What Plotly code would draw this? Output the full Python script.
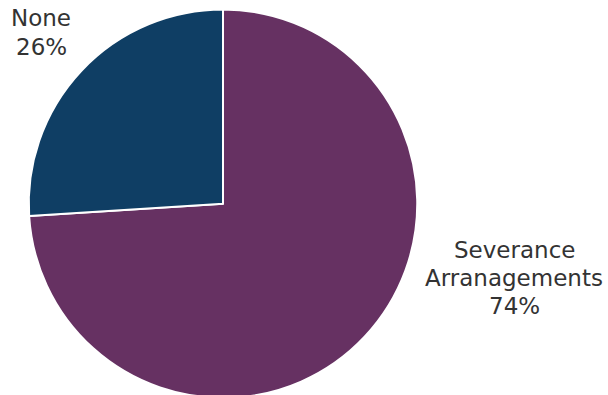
import plotly.graph_objects as go

labels = ["Severance<br>Arranagements", "None"]
values = [74, 26]
colors = ["#663162", "#0f3e64"]

W, H = 608, 398

fig = go.Figure()
fig.add_trace(go.Pie(
    labels=labels, values=values, sort=False, direction="clockwise", rotation=0,
    marker=dict(colors=colors, line=dict(color="white", width=2)),
    textinfo="none", hoverinfo="label+percent", showlegend=False,
    domain=dict(x=[28/W, 418/W], y=[0, 1 - 9.5/H]),
))

font = dict(family="DejaVu Sans", size=23, color="#333333")
# first line centre (x, y) in pixels from top-left, line spacing
pos = {"None": (41, 18, 29), "Severance<br>Arranagements": (514, 250, 28)}
for lab, val in zip(labels, values):
    px, py, sp = pos[lab]
    lines = lab.split("<br>") + [f"{val}%"]
    for i, line in enumerate(lines):
        fig.add_annotation(x=px/W, y=1 - (py + sp*i)/H, xref="paper", yref="paper",
                           text=line, showarrow=False, font=font,
                           xanchor="center", yanchor="middle", align="center")

fig.update_layout(width=W, height=H, margin=dict(l=0, r=0, t=0, b=0),
                  paper_bgcolor="white", plot_bgcolor="white")
fig.write_html("out.html", config={"displayModeBar": False},
               post_script="document.body.style.margin='0';document.body.style.overflow='hidden';document.documentElement.style.overflow='hidden';")
